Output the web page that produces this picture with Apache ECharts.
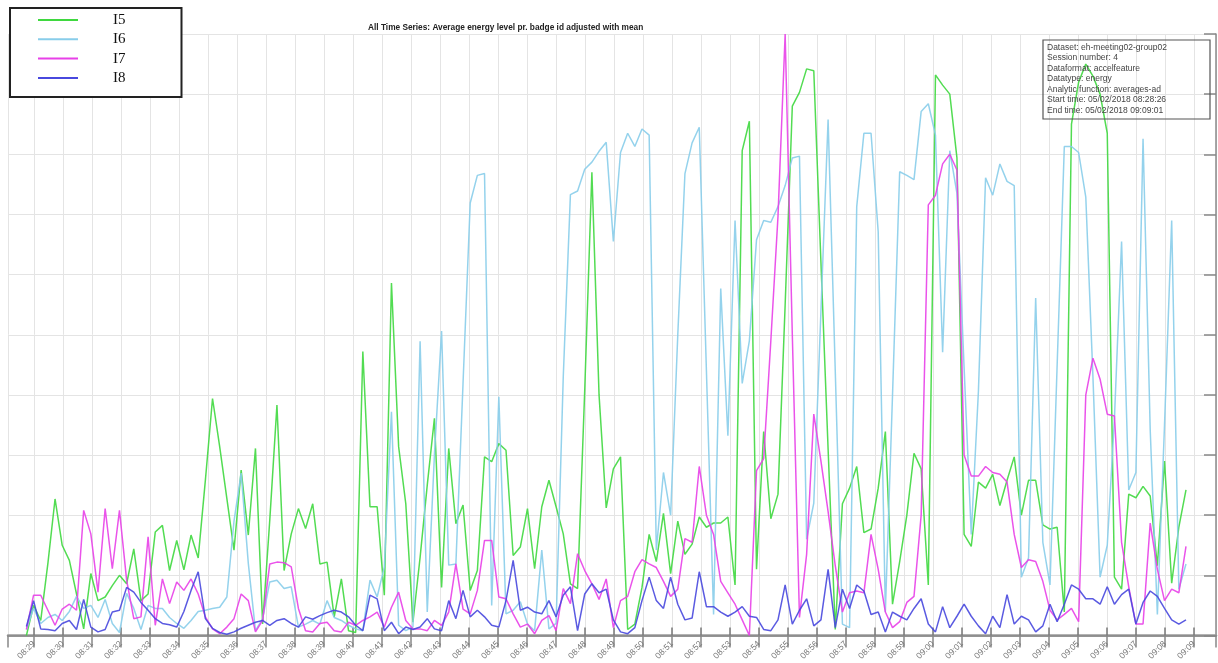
<!DOCTYPE html>
<html><head><meta charset="utf-8">
<style>html,body{margin:0;padding:0;background:#fff;}#c{width:1218px;height:663px;}</style>
<script src="https://cdn.jsdelivr.net/npm/echarts@6.0.0/dist/echarts.min.js"></script>
</head><body><div id="c"></div>
<script>
const seriesNames = ['I5', 'I6', 'I7', 'I8'];
const I5 = [
0, 0.5, 0.25, 1.2, 2.27, 1.5, 1.25, 0.69, 0.11, 1.03,
0.58, 0.64, 0.83, 1.0, 0.86, 1.44, 0.58, 0.69, 1.72, 1.83,
1.08, 1.58, 1.09, 1.67, 1.29, 2.58, 3.94, 3.14, 2.28, 1.42,
2.75, 1.67, 3.11, 0.19, 1.92, 3.83, 1.08, 1.69, 2.11, 1.78,
2.19, 1.19, 1.22, 0.31, 0.94, 0.08, 0.05, 4.72, 2.14, 2.14,
0.67, 5.86, 3.14, 2.19, 0.22, 1.3, 2.5, 3.61, 0.8, 3.11,
1.86, 2.17, 0.75, 1.08, 2.97, 2.89, 3.19, 3.08, 1.33, 1.47,
2.11, 1.11, 2.14, 2.58, 2.14, 1.69, 0.86, 0.78, 4.08, 7.7,
4.0, 2.12, 2.77, 2.97, 0.1, 0.19, 0.8, 1.68, 1.23, 2.03,
1.03, 1.9, 1.35, 1.52, 1.97, 1.8, 1.87, 1.87, 1.97, 0.84,
8.06, 8.55, 1.1, 3.39, 1.94, 2.35, 5.5, 8.8, 9.03, 9.42,
9.39, 6.2, 3.1, 0.1, 2.19, 2.45, 2.81, 1.71, 1.77, 2.45,
3.39, 0.52, 1.23, 2.0, 3.03, 2.77, 0.84, 9.32, 9.15, 9.0,
7.94, 1.68, 1.48, 2.55, 2.45, 2.68, 2.16, 2.58, 2.97, 2.0,
2.58, 2.58, 1.84, 1.77, 1.8, 0.39, 8.5, 9.2, 9.5, 9.3,
9.0, 8.35, 0.97, 0.77, 2.35, 2.29, 2.48, 2.32, 1.16, 2.9,
0.87, 1.8, 2.42
];
const I6 = [
0.1, 0.45, 0.2, 0.3, 0.35, 0.25, 0.4, 0.65, 0.45, 0.5,
0.3, 0.6, 0.2, 0.05, 0.7, 0.45, 0.1, 0.5, 0.45, 0.45,
0.3, 0.2, 0.12, 0.25, 0.4, 0.42, 0.45, 0.47, 0.64, 1.9,
2.7, 1.2, 0.08, 0.28, 0.89, 0.92, 0.78, 0.81, 0.14, 0.19,
0.25, 0.19, 0.58, 0.3, 0.25, 0.17, 0.11, 0.08, 0.92, 0.64,
1.14, 3.72, 0.17, 0.08, 0.14, 4.89, 0.39, 3.0, 5.06, 1.17,
1.19, 4.2, 7.19, 7.65, 7.68, 0.5, 3.97, 0.36, 0.42, 0.56,
0.19, 0.08, 1.42, 0.11, 0.2, 4.3, 7.33, 7.39, 7.75, 7.87,
8.05, 8.2, 6.55, 8.03, 8.35, 8.13, 8.42, 8.32, 1.42, 2.71,
2.0, 5.0, 7.68, 8.19, 8.45, 4.4, 0.35, 5.77, 3.32, 6.9,
4.19, 4.9, 6.58, 6.9, 6.87, 7.13, 7.48, 7.94, 7.97, 1.6,
2.2, 5.4, 8.58, 4.4, 0.19, 0.13, 7.13, 8.35, 8.35, 6.71,
0.39, 4.0, 7.71, 7.65, 7.58, 8.71, 8.84, 8.32, 4.71, 8.06,
7.35, 4.45, 1.68, 4.06, 7.61, 7.32, 7.84, 7.55, 7.48, 0.97,
1.29, 5.61, 1.55, 0.84, 4.5, 8.13, 8.13, 8.03, 7.29, 4.3,
0.97, 1.5, 3.6, 6.55, 2.42, 2.71, 8.26, 3.42, 0.35, 3.5,
6.9, 0.77, 1.19
];
const I7 = [
0.1, 0.67, 0.67, 0.42, 0.17, 0.44, 0.52, 0.42, 2.08, 1.69,
0.72, 2.11, 1.11, 2.08, 0.92, 0.28, 0.31, 1.64, 0.17, 0.94,
0.53, 0.89, 0.75, 0.94, 0.69, 0.31, 0.11, 0.03, 0.14, 0.28,
0.69, 0.58, 0.06, 0.25, 1.19, 1.22, 1.21, 1.14, 0.45, 0.08,
0.06, 0.2, 0.22, 0.08, 0.06, 0.22, 0.17, 0.25, 0.31, 0.39,
0.14, 0.47, 0.72, 0.25, 0.11, 0.11, 0.08, 0.25, 0.17, 0.39,
1.19, 0.44, 0.36, 0.75, 1.58, 1.58, 0.64, 0.61, 0.36, 0.14,
0.19, 0.03, 0.25, 0.33, 0.08, 0.78, 0.53, 1.36, 1.08, 0.86,
0.6, 0.94, 0.13, 0.58, 0.65, 1.06, 1.26, 1.19, 1.13, 0.9,
0.65, 0.77, 1.61, 1.55, 2.81, 2.0, 1.68, 0.9, 0.71, 0.52,
0.26, 0.0, 2.74, 2.94, 4.9, 6.97, 10.0, 5.0, 0.3, 1.35,
3.68, 2.9, 2.06, 1.16, 0.39, 0.71, 0.74, 0.71, 1.68, 1.1,
0.39, 0.13, 0.23, 0.55, 0.65, 2.0, 7.16, 7.32, 7.84, 8.0,
7.74, 3.0, 2.65, 2.65, 2.81, 2.71, 2.68, 2.55, 1.68, 1.13,
1.26, 1.23, 0.9, 0.42, 0.26, 0.35, 0.45, 0.23, 4.0, 4.61,
4.26, 3.68, 3.65, 1.55, 0.81, 0.19, 0.19, 1.87, 1.1, 0.58,
0.77, 0.71, 1.48
];
const I8 = [
0.15, 0.58, 0.11, 0.1, 0.08, 0.2, 0.25, 0.1, 0.6, 0.14,
0.06, 0.1, 0.39, 0.42, 0.8, 0.72, 0.55, 0.42, 0.28, 0.2,
0.18, 0.14, 0.4, 0.75, 1.06, 0.28, 0.12, 0.05, 0.02, 0.06,
0.12, 0.17, 0.22, 0.25, 0.17, 0.25, 0.28, 0.2, 0.14, 0.31,
0.27, 0.33, 0.38, 0.42, 0.39, 0.31, 0.17, 0.08, 0.67, 0.61,
0.08, 0.22, 0.03, 0.14, 0.1, 0.14, 0.28, 0.11, 0.08, 0.58,
0.28, 0.75, 0.31, 0.42, 0.31, 0.17, 0.14, 0.58, 1.25, 0.42,
0.47, 0.39, 0.36, 0.58, 0.31, 0.67, 0.81, 0.08, 0.69, 0.86,
0.71, 0.77, 0.26, 0.06, 0.03, 0.13, 0.58, 0.97, 0.58, 0.45,
0.97, 0.52, 0.26, 0.29, 1.06, 0.48, 0.48, 0.39, 0.32, 0.39,
0.48, 0.32, 0.3, 0.1, 0.08, 0.26, 0.84, 0.19, 0.42, 0.61,
0.16, 0.26, 1.1, 0.13, 0.77, 0.45, 0.84, 0.74, 0.35, 0.39,
0.06, 0.39, 0.32, 0.26, 0.45, 0.61, 0.19, 0.06, 0.48, 0.13,
0.32, 0.52, 0.32, 0.16, 0.03, 0.32, 0.13, 0.68, 0.19, 0.32,
0.26, 0.06, 0.16, 0.52, 0.23, 0.52, 0.84, 0.77, 0.61, 0.61,
0.52, 0.81, 0.52, 0.68, 0.77, 0.19, 0.55, 0.74, 0.65, 0.45,
0.26, 0.19, 0.26
];
const infoLines = [
  'Dataset: eh-meeting02-group02',
  'Session number: 4',
  'Dataformat: accelfeature',
  'Datatype: energy',
  'Analytic function: averages-ad',
  'Start time: 05/02/2018 08:28:26',
  'End time: 05/02/2018 09:09:01'
];
const chartTitle = 'All Time Series: Average energy level pr. badge id adjusted with mean';

// sampling grid of the series (first sample time and step)
const FIRST_SAMPLE = Date.UTC(2018, 1, 5, 8, 28, 44, 300);
const SAMPLE_STEP_MS = 14810;
const AXIS_MIN = Date.UTC(2018, 1, 5, 8, 28, 6, 200);
const AXIS_MAX = Date.UTC(2018, 1, 5, 9, 9, 45, 600);
const colors = ['#3fd83f', '#88cdea', '#e840e8', '#4848de'];

function pairs(vals) { return vals.map((v, i) => [FIRST_SAMPLE + i * SAMPLE_STEP_MS, v]); }
function hhmm(v) {
  const d = new Date(v);
  return String(d.getUTCHours()).padStart(2, '0') + ':' + String(d.getUTCMinutes()).padStart(2, '0');
}

const chart = echarts.init(document.getElementById('c'), null, { renderer: 'canvas' });
const valueSets = [I5, I6, I7, I8];
chart.setOption({
  useUTC: true,
  animation: false,
  backgroundColor: '#ffffff',
  color: colors,
  title: {
    text: chartTitle, left: 363, top: 19,
    textStyle: { fontSize: 8.3, fontWeight: 'bold', color: '#222', fontFamily: '"Liberation Sans", Arial, sans-serif' }
  },
  legend: {
    orient: 'vertical', left: 10, top: 8, data: seriesNames,
    icon: 'path://M0,0L40,0L40,2L0,2Z',
    backgroundColor: '#ffffff', borderColor: '#222', borderWidth: 2,
    padding: [4.5, 56, 11.5, 28], itemGap: 4.3, itemWidth: 40, itemHeight: 15,
    textStyle: { fontFamily: '"Liberation Serif", "DejaVu Serif", serif', fontSize: 15, color: '#111', padding: [0, 0, 0, 30] }
  },
  grid: { left: 8, right: 2, top: 34, bottom: 27.5, containLabel: false },
  xAxis: [{
    type: 'time', min: AXIS_MIN, max: AXIS_MAX, minInterval: 60000, maxInterval: 60000,
    axisLine: { show: true, lineStyle: { color: '#9a9a9a', width: 2.5 } },
    axisTick: { show: true, inside: true, length: 8, lineStyle: { color: '#777', width: 1.5 } },
    axisLabel: { rotate: 45, color: '#777', fontSize: 8.5, margin: 7, formatter: hhmm, showMinLabel: false, showMaxLabel: false,
      fontFamily: '"Liberation Sans", Arial, sans-serif' },
    splitLine: { show: true, lineStyle: { color: '#e4e4e4', width: 1 } }
  }, {
    type: 'time', position: 'top', min: AXIS_MIN, max: AXIS_MAX, minInterval: 60000, maxInterval: 60000,
    axisLine: { show: true, lineStyle: { color: '#8a8a8a', width: 1.5 } },
    axisTick: { show: true, inside: true, length: 12, lineStyle: { color: '#888', width: 1.5 } },
    axisLabel: { show: false }, splitLine: { show: false }
  }],
  yAxis: [{
    type: 'value', min: 0, max: 10, interval: 1,
    axisLine: { show: false }, axisTick: { show: false }, axisLabel: { show: false },
    splitLine: { show: true, lineStyle: { color: '#e4e4e4', width: 1 } }
  }, {
    type: 'value', position: 'right', min: 0, max: 10, interval: 1,
    axisLine: { show: true, lineStyle: { color: '#8a8a8a', width: 1.5 } },
    axisTick: { show: true, inside: true, length: 12, lineStyle: { color: '#888', width: 1.5 } },
    axisLabel: { show: false }, splitLine: { show: false }
  }],
  series: seriesNames.map((name, k) => ({
    name: name, type: 'line', xAxisIndex: 0, yAxisIndex: 0,
    data: pairs(valueSets[k]), symbol: 'none', showSymbol: false, clip: true,
    lineStyle: { width: 1.5, color: colors[k], opacity: 0.9 }
  })),
  graphic: [{
    type: 'rect', z: 100, shape: { x: 1043, y: 40, width: 167, height: 79 },
    style: { fill: 'none', stroke: '#555', lineWidth: 1.2 }
  }, {
    type: 'text', z: 100, x: 1047, y: 42,
    style: { text: infoLines.join('\n'), font: '8.5px "Liberation Sans", Arial, sans-serif', fill: '#444', lineHeight: 10.5, verticalAlign: 'top' }
  }]
});
</script>
</body></html>
